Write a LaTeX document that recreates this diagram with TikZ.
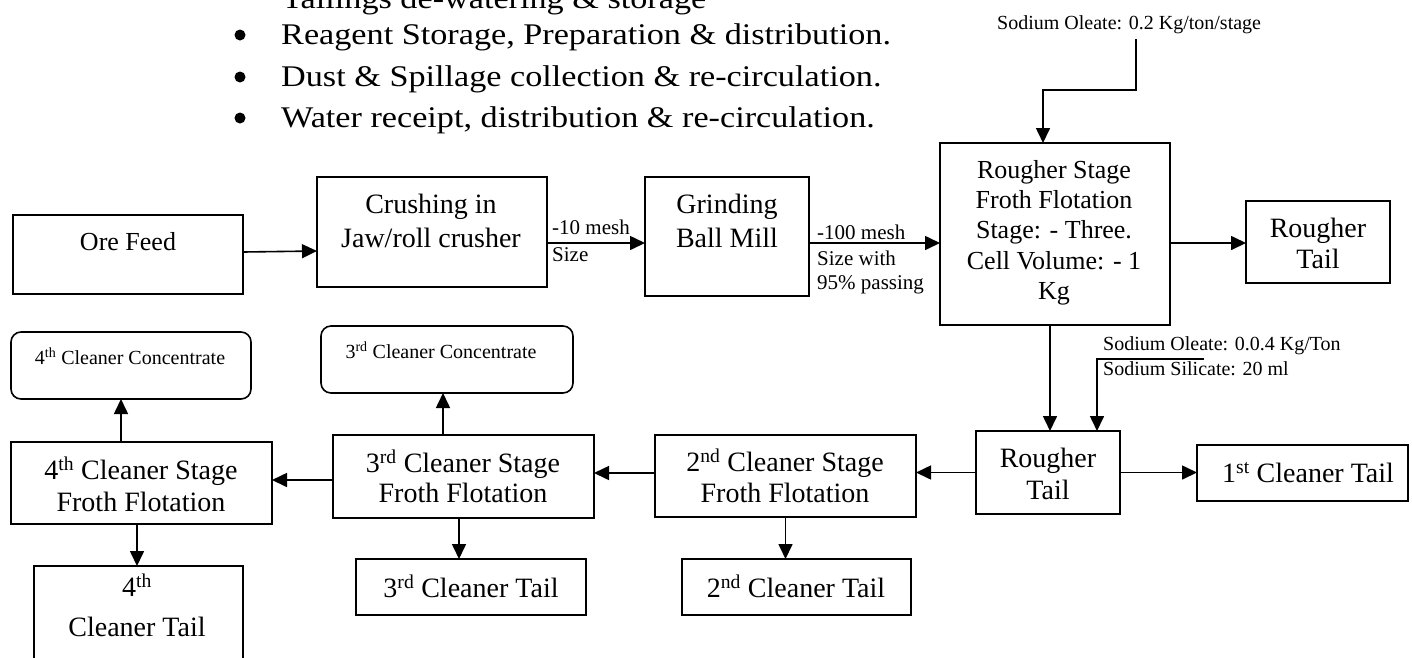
\documentclass[tikz,border=0pt]{standalone}
\usepackage{graphicx}
\usepackage{fontspec}
\setmainfont{Liberation Serif}
\usetikzlibrary{arrows.meta}
\begin{document}
\begin{tikzpicture}[x=1pt,y=-1pt,
  box/.style={draw, line width=1.6pt, inner sep=0pt, outer sep=0pt},
  rbox/.style={box, rounded corners=10pt},
  arr/.style={line width=1.6pt, -{Triangle[length=15pt,width=14pt]}},
  ln/.style={line width=1.6pt},
  txt/.style={inner sep=0pt, anchor=base},
  ltxt/.style={inner sep=0pt, anchor=base west},
  big/.style={font=\fontsize{28}{32}\selectfont},
  mid/.style={font=\fontsize{26}{30}\selectfont},
  sml/.style={font=\fontsize{21}{24}\selectfont},
  tny/.style={font=\fontsize{20}{23}\selectfont},
  bul/.style={font=\fontsize{30}{34}\selectfont},
  dot/.style={circle, fill, inner sep=0pt, minimum size=11pt}
]
\useasboundingbox (0,0) rectangle (1412,657);
\clip (0,0) rectangle (1412,657);

% ---- bullet text at top ----
\node[bul, ltxt] (t0) at (282,8) {\scalebox{1.14}[1]{Tailings de-watering \& storage}};
\node[dot] (d1) at (240,35) {};
\node[bul, ltxt] (t1) at (281,44) {\scalebox{1.14}[1]{Reagent Storage, Preparation \& distribution.}};
\node[dot] (d2) at (240,77) {};
\node[bul, ltxt] (t2) at (281,86) {\scalebox{1.14}[1]{Dust \& Spillage collection \& re-circulation.}};
\node[dot] (d3) at (240,118) {};
\node[bul, ltxt] (t3) at (281,127) {\scalebox{1.14}[1]{Water receipt, distribution \& re-circulation.}};

% ---- boxes ----
\node[box, minimum width=230pt, minimum height=79pt] (ore) at (128,254.5) {};
\node[box, minimum width=230pt, minimum height=110pt] (crush) at (432,232) {};
\node[box, minimum width=164pt, minimum height=119pt] (grind) at (727,236.5) {};
\node[box, minimum width=230pt, minimum height=182pt] (rough) at (1055,234) {};
\node[box, minimum width=144pt, minimum height=82pt] (rtail1) at (1318,242) {};
\node[rbox, minimum width=240pt, minimum height=67pt] (conc4) at (131,365.5) {};
\node[rbox, minimum width=252pt, minimum height=67pt] (conc3) at (447,359.5) {};
\node[box, minimum width=261pt, minimum height=82pt] (st4) at (141.5,483) {};
\node[box, minimum width=261pt, minimum height=83pt] (st3) at (463.5,476.5) {};
\node[box, minimum width=261pt, minimum height=82pt] (st2) at (785.5,476) {};
\node[box, minimum width=144pt, minimum height=83pt] (rtail2) at (1048,472.5) {};
\node[box, minimum width=211pt, minimum height=56pt] (ct1) at (1302.5,473) {};
\node[box, minimum width=209pt, minimum height=110pt] (ct4) at (138.5,621) {};
\node[box, minimum width=230pt, minimum height=56pt] (ct3) at (471,587) {};
\node[box, minimum width=229pt, minimum height=56pt] (ct2) at (796.5,587) {};

% ---- box texts ----
\node[mid, txt] (oreT) at (128,250.6) {Ore Feed};
\node[big, txt] (crT1) at (431,213.5) {Crushing in};
\node[big, txt] (crT2) at (431,247.5) {Jaw/roll crusher};
\node[big, txt] (grT1) at (727,213.5) {Grinding};
\node[big, txt] (grT2) at (727,247.5) {Ball Mill};
\node[mid, txt] (roT1) at (1054,178.5) {Rougher Stage};
\node[mid, txt] (roT2) at (1054,208.7) {Froth Flotation};
\node[mid, txt] (roT3) at (1054,238.9) {Stage: - Three.};
\node[mid, txt] (roT4) at (1054,269.1) {Cell Volume: - 1};
\node[mid, txt] (roT5) at (1054,299.3) {Kg};
\node[big, txt] (rt1a) at (1318,237.5) {Rougher};
\node[big, txt] (rt1b) at (1318,268.5) {Tail};
\node[tny, txt] (c4T) at (130,364.6) {4\textsuperscript{th} Cleaner Concentrate};
\node[tny, txt] (c3T) at (441,358.6) {3\textsuperscript{rd} Cleaner Concentrate};
\node[big, txt] (s4a) at (141,479.5) {4\textsuperscript{th} Cleaner Stage};
\node[big, txt] (s4b) at (141,511.5) {Froth Flotation};
\node[big, txt] (s3a) at (463,472.5) {3\textsuperscript{rd} Cleaner Stage};
\node[big, txt] (s3b) at (463,502.5) {Froth Flotation};
\node[big, txt] (s2a) at (785,471.5) {2\textsuperscript{nd} Cleaner Stage};
\node[big, txt] (s2b) at (785,502.5) {Froth Flotation};
\node[big, txt] (rt2a) at (1048,467.5) {Rougher};
\node[big, txt] (rt2b) at (1048,499.5) {Tail};
\node[big, txt] (c1T) at (1308,482.5) {1\textsuperscript{st} Cleaner Tail};
\node[big, txt] (t4a) at (137,596.5) {4\textsuperscript{th}};
\node[big, txt] (t4b) at (137,636.5) {Cleaner Tail};
\node[big, txt] (t3T) at (471,597.5) {3\textsuperscript{rd} Cleaner Tail};
\node[big, txt] (t2T) at (796,597.5) {2\textsuperscript{nd} Cleaner Tail};

% ---- connector labels ----
\node[sml, ltxt] (m10) at (552,234) {-10 mesh};
\node[sml, ltxt] (m10b) at (552,261) {Size};
\node[sml, ltxt] (m100) at (817,239.5) {-100 mesh};
\node[sml, ltxt] (m100b) at (817,265) {Size with};
\node[sml, ltxt] (m100c) at (817,289.5) {95\% passing};
\node[tny, ltxt] (ol1) at (997,29) {Sodium Oleate: 0.2 Kg/ton/stage};
\node[tny, ltxt] (ol2) at (1103,350.5) {Sodium Oleate: 0.0.4 Kg/Ton};
\node[tny, ltxt] (sil) at (1103,375.5) {Sodium Silicate: 20 ml};

% ---- connectors ----
\draw[arr] ([yshift=2.5pt]ore.east) -- ([yshift=-19pt]crush.west);
\draw[arr] ([yshift=-11pt]crush.east) -- ([yshift=-11pt]crush.east -| grind.west);
\draw[arr] ([yshift=-6.5pt]grind.east) -- ([yshift=-6.5pt]grind.east -| rough.west);
\draw[arr] ([yshift=-9pt]rough.east) -- ([yshift=-9pt]rough.east -| rtail1.west);
\coordinate (f1) at (1136,39);
\coordinate (f2) at (1043,90);
\draw[arr] (f1) |- (f2) -- (f2 |- rough.north);
\draw[arr] ([xshift=-5pt]rough.south) -- ([xshift=-5pt]rough.south |- rtail2.north);
\coordinate (g1) at (1204,359);
\coordinate (g2) at (1097,359);
\draw[arr] (g1) -- (g2) -- (g2 |- rtail2.north);
\draw[arr] (rtail2.west) -- (rtail2.west -| st2.east);
\draw[arr] (rtail2.east) -- (rtail2.east -| ct1.west);
\draw[arr] ([yshift=3pt]st2.west) -- ([yshift=3pt]st2.west -| st3.east);
\draw[arr] ([yshift=-3.5pt]st3.west) -- ([yshift=-3.5pt]st3.west -| st4.east);
\draw[arr] ([xshift=-20.5pt]st4.north) -- ([xshift=-20.5pt]st4.north |- conc4.south);
\draw[arr] ([xshift=-20.5pt]st3.north) -- ([xshift=-20.5pt]st3.north |- conc3.south);
\draw[arr] ([xshift=-4.5pt]st4.south) -- ([xshift=-4.5pt]st4.south |- ct4.north);
\draw[arr] ([xshift=-4.5pt]st3.south) -- ([xshift=-4.5pt]st3.south |- ct3.north);
\draw[arr] (st2.south) -- (st2.south |- ct2.north);
\end{tikzpicture}
\end{document}
